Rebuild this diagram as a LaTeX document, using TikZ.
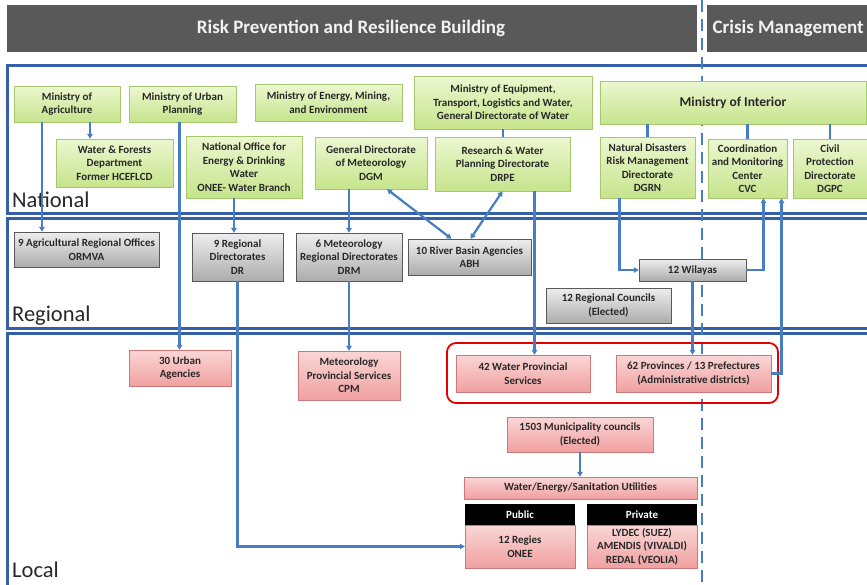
\documentclass[tikz,border=0pt]{standalone}
\usepackage{fontspec}
\setmainfont{Carlito}
\usepackage{tikz}
\usetikzlibrary{positioning}
\usetikzlibrary{shadows}
\usetikzlibrary{arrows.meta}
\usepackage{xcolor}

\definecolor{headgrey}{RGB}{89,89,89}
\definecolor{tierblue}{RGB}{55,95,165}
\definecolor{linkblue}{RGB}{70,125,195}
\definecolor{greentop}{RGB}{236,247,208}
\definecolor{greenbot}{RGB}{198,228,140}
\definecolor{greenline}{RGB}{165,200,110}
\definecolor{greytop}{RGB}{238,238,238}
\definecolor{greybot}{RGB}{172,172,172}
\definecolor{pinktop}{RGB}{250,214,214}
\definecolor{pinkbot}{RGB}{240,160,160}
\definecolor{pinkline}{RGB}{205,120,120}
\definecolor{textgrey}{RGB}{40,40,40}

\tikzset{
  box/.style={draw, align=center, inner sep=1pt, text=textgrey,
    font=\bfseries\fontsize{11}{13.5}\selectfont,
    drop shadow={shadow xshift=1.2pt, shadow yshift=-1.2pt, opacity=0.3}},
  greenbox/.style={box, draw=greenline, top color=greentop, bottom color=greenbot},
  greybox/.style={box, draw=black!65, top color=greytop, bottom color=greybot},
  pinkbox/.style={box, draw=pinkline, top color=pinktop, bottom color=pinkbot},
  blackbox/.style={fill=black, text=white, inner sep=1pt,
    font=\bfseries\fontsize{11}{13.5}\selectfont},
  tier/.style={draw=tierblue, line width=3pt},
  tierlabel/.style={anchor=base west, inner sep=0pt, text=textgrey,
    font=\fontsize{22.5}{26}\selectfont},
  headtext/.style={text=white!95!black, font=\bfseries\fontsize{19}{22}\selectfont},
  link/.style={draw=linkblue, line width=2.2pt},
  arr/.style={link, -{Triangle[length=5pt,width=5.5pt]}},
  twoarr/.style={link, {Triangle[length=5pt,width=5.5pt]}-{Triangle[length=5pt,width=5.5pt]}},
}

\begin{document}
\begin{tikzpicture}[x=1pt, y=-1pt]
    \useasboundingbox (0,0) rectangle (867,584);
    \fill[white] (0,0) rectangle (867,584);

    \fill[headgrey] (7,5) rectangle (697,52);
    \fill[headgrey] (707,5) rectangle (870,52);
    \node[headtext] (riskhead) at (351,28) {Risk Prevention and Resilience Building};
    \node[headtext, anchor=west] (crisishead) at (709,28) {Crisis Management};

    \draw[tier] (7,65) rectangle (875,213);
    \draw[tier] (7,218) rectangle (875,328);
    \draw[tier] (7,333) rectangle (875,590);
    \node[tierlabel] (national) at (12,207) {National};
    \node[tierlabel] (regional) at (12,321) {Regional};
    \node[tierlabel] (local) at (12,577) {Local};

    \draw[linkblue, line width=2.8pt, dash pattern=on 12pt off 7pt] (702,0) -- (702,584);

    \node[greenbox, minimum width=106, minimum height=36] (agri) at (67,104) {Ministry of\\Agriculture};
    \node[greenbox, minimum width=107, minimum height=36] (urban) at (182.5,104) {Ministry of Urban\\Planning};
    \node[greenbox, minimum width=147, minimum height=37] (energy) at (328.5,102.5) {Ministry of Energy, Mining,\\and Environment};
    \node[greenbox, minimum width=178, minimum height=53] (equip) at (503,102.5) {Ministry of Equipment,\\Transport, Logistics and Water,\\General Directorate of Water};
    \node[greenbox, minimum width=266, minimum height=43, font=\bfseries\fontsize{13.5}{16}\selectfont] (interior) at (733,102.5) {Ministry of Interior};
    \node[greenbox, minimum width=117, minimum height=48] (wfd) at (114.5,163) {Water \& Forests\\Department\\Former HCEFLCD};
    \node[greenbox, minimum width=116, minimum height=62] (onee) at (244,167) {National Office for\\Energy \& Drinking\\Water\\ONEE- Water Branch};
    \node[greenbox, minimum width=112, minimum height=52] (dgm) at (371,163) {General Directorate\\of Meteorology\\DGM};
    \node[greenbox, minimum width=135, minimum height=54] (drpe) at (502.5,164) {Research \& Water\\Planning Directorate\\DRPE};
    \node[greenbox, minimum width=95, minimum height=61] (dgrn) at (647.5,167.5) {Natural Disasters\\Risk Management\\Directorate\\DGRN};
    \node[greenbox, minimum width=79, minimum height=59] (cvc) at (747.5,168.5) {Coordination\\and Monitoring\\Center\\CVC};
    \node[greenbox, minimum width=74, minimum height=59] (dgpc) at (830,168.5) {Civil\\Protection\\Directorate\\DGPC};

    \node[greybox, minimum width=145, minimum height=35] (ormva) at (86.5,249.5) {9 Agricultural Regional Offices\\ORMVA};
    \node[greybox, minimum width=91, minimum height=48] (dr) at (237.5,257) {9 Regional\\Directorates\\DR};
    \node[greybox, minimum width=106, minimum height=48] (drm) at (349,257) {6 Meteorology\\Regional Directorates\\DRM};
    \node[greybox, minimum width=123, minimum height=36] (abh) at (469.5,257) {10 River Basin Agencies\\ABH};
    \node[greybox, minimum width=107, minimum height=22] (wilayas) at (692.5,270) {12 Wilayas};
    \node[greybox, minimum width=125, minimum height=35] (rcouncil) at (608.5,305.5) {12 Regional Councils\\(Elected)};

    \draw[red!90!black, line width=1.8pt, rounded corners=9pt] (447,343) rectangle (778,403);
    \node[pinkbox, minimum width=102, minimum height=36] (uagency) at (180,368) {30 Urban\\Agencies};
    \node[pinkbox, minimum width=102, minimum height=49] (cpm) at (349,375.5) {Meteorology\\Provincial Services\\CPM};
    \node[pinkbox, minimum width=134, minimum height=37] (wps) at (523,373.5) {42 Water Provincial\\Services};
    \node[pinkbox, minimum width=155, minimum height=37] (prov) at (693.5,373.5) {62 Provinces / 13 Prefectures\\(Administrative districts)};
    \node[pinkbox, minimum width=146, minimum height=35] (muni) at (580,434.5) {1503 Municipality councils\\(Elected)};
    \node[pinkbox, minimum width=233, minimum height=22] (util) at (580.5,488) {Water/Energy/Sanitation Utilities};
    \node[pinkbox, minimum width=110, minimum height=43] (regies) at (520,546.5) {12 Regies\\ONEE};
    \node[pinkbox, minimum width=110, minimum height=43] (priv) at (642,546.5) {LYDEC (SUEZ)\\AMENDIS (VIVALDI)\\REDAL (VEOLIA)};
    \node[blackbox, minimum width=110, minimum height=21] (pubhead) at (520,514.5) {Public};
    \node[blackbox, minimum width=110, minimum height=21] (privhead) at (642,514.5) {Private};

    \draw[arr] ([xshift=23]agri.south) -- ([xshift=23]agri.south |- wfd.north);
    \draw[arr] ([xshift=-25]agri.south) -- ([xshift=-25]agri.south |- ormva.north);
    \draw[arr] ([xshift=-3]urban.south) -- ([xshift=-3]urban.south |- uagency.north);
    \draw[arr] ([xshift=-10]onee.south) -- ([xshift=-10]onee.south |- dr.north);
    \draw[arr] (dr.south) |- (regies.west);
    \draw[arr] (dgm.south -| drm.north) -- (drm.north);
    \draw[arr] (drm.south) -- (cpm.north);
    \draw[twoarr] ([xshift=16]dgm.south) -- ([xshift=-18]abh.north);
    \draw[twoarr] (drpe.south) -- ([xshift=1]abh.north);
    \draw[link] (equip.south) -- (equip.south |- drpe.north);
    \draw[arr] ([xshift=32]drpe.south) -- ([xshift=32]drpe.south |- wps.north);
    \draw[link] (interior.south -| dgrn.north) -- (dgrn.north);
    \draw[link] (interior.south -| cvc.north) -- (cvc.north);
    \draw[link] (interior.south -| dgpc.north) -- (dgpc.north);
    \draw[arr] ([xshift=-28]dgrn.south) |- (wilayas.west);
    \draw[arr] (wilayas.east) -| ([xshift=16]cvc.south);
    \draw[arr] (prov.east) -| ([xshift=34]cvc.south);
    \draw[arr] (wilayas.south) -- (wilayas.south |- prov.north);
    \draw[arr] (muni.south) -- (muni.south |- util.north);
\end{tikzpicture}
\end{document}
